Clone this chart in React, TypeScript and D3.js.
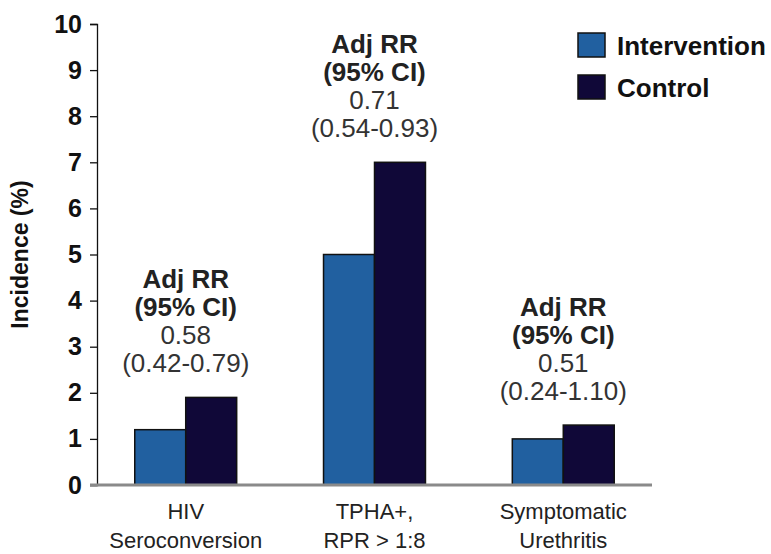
import React, { useEffect, useRef } from 'react'
import * as d3 from 'd3'

// chart values
const categories = ['HIV Seroconversion', 'TPHA+, RPR > 1:8', 'Symptomatic Urethritis']
const categoryLines = [['HIV', 'Seroconversion'], ['TPHA+,', 'RPR > 1:8'], ['Symptomatic', 'Urethritis']]
const seriesNames = ['Intervention', 'Control']
const intervention = [1.2, 5.0, 1.0]
const control = [1.9, 7.0, 1.3]
const rrValues = ['0.58', '0.71', '0.51']
const rrIntervals = ['(0.42-0.79)', '(0.54-0.93)', '(0.24-1.10)']
const yTicks = [0, 1, 2, 3, 4, 5, 6, 7, 8, 9, 10]

const colors = ['#2160a0', '#100838']
const FONT = 'Arial, "Liberation Sans", Helvetica, sans-serif'

function App() {
    const ref = useRef<SVGSVGElement>(null)

    useEffect(() => {
        const width = 771, height = 554
        const margin = { top: 24, right: 119, bottom: 69, left: 97 }
        const w = width - margin.left - margin.right
        const h = height - margin.top - margin.bottom

        const root = d3.select(ref.current)
        root.selectAll('*').remove()
        const svg = root.append('g')
            .attr('transform', 'translate(' + margin.left + ',' + margin.top + ')')

        const y = d3.scaleLinear().domain([0, 10]).range([h, 0])
        const x = d3.scaleBand().domain(categories).range([0, w]).paddingInner(0.46).paddingOuter(0.2)
        const xs = d3.scaleBand().domain(seriesNames).range([0, x.bandwidth()])

        // y axis
        const yAxis = svg.append('g')
            .call(d3.axisLeft(y).tickValues(yTicks).tickSize(7).tickPadding(8).tickFormat(d3.format('d')))
        yAxis.select('.domain').attr('stroke', '#111').attr('stroke-width', 1.3)
        yAxis.selectAll('.tick line').attr('stroke', '#111').attr('stroke-width', 1.3)
        yAxis.selectAll('.tick text')
            .attr('font-family', FONT).attr('font-size', 25).attr('font-weight', 'bold').attr('fill', '#111')

        svg.append('text')
            .attr('transform', 'translate(' + (-75) + ',' + (h / 2) + ') rotate(-90)')
            .attr('text-anchor', 'middle')
            .attr('dominant-baseline', 'middle')
            .attr('font-family', FONT).attr('font-size', 23).attr('font-weight', 'bold').attr('fill', '#111')
            .text('Incidence (%)')

        // bars
        const series = [intervention, control]
        series.forEach((vals, si) => {
            svg.selectAll('.bar' + si)
                .data(vals)
                .enter()
                .append('rect')
                .attr('x', (d, i) => (x(categories[i]) as number) + (xs(seriesNames[si]) as number))
                .attr('y', (d) => y(d))
                .attr('width', xs.bandwidth())
                .attr('height', (d) => h - y(d))
                .attr('fill', colors[si])
                .attr('stroke', '#111')
                .attr('stroke-width', 1.5)
        })

        // x baseline
        svg.append('line')
            .attr('x1', -7).attr('x2', w)
            .attr('y1', y(0)).attr('y2', y(0))
            .attr('stroke', '#8a8a8a').attr('stroke-width', 3)

        // category labels
        categories.forEach((c, i) => {
            const cx = (x(c) as number) + x.bandwidth() / 2
            categoryLines[i].forEach((line, li) => {
                svg.append('text')
                    .attr('x', cx).attr('y', h + 34 + li * 29)
                    .attr('text-anchor', 'middle')
                    .attr('font-family', FONT).attr('font-size', 22).attr('fill', '#222')
                    .text(line)
            })
        })

        // RR annotations above each group
        categories.forEach((c, i) => {
            const cx = (x(c) as number) + x.bandwidth() / 2
            const top = y(Math.max(intervention[i], control[i]))
            const lines = [
                { t: 'Adj RR', bold: true },
                { t: '(95% CI)', bold: true },
                { t: rrValues[i], bold: false },
                { t: rrIntervals[i], bold: false },
            ]
            lines.forEach((l, li) => {
                svg.append('text')
                    .attr('x', cx)
                    .attr('y', top - 25 - (3 - li) * 28)
                    .attr('text-anchor', 'middle')
                    .attr('font-family', FONT).attr('font-size', 26)
                    .attr('font-weight', l.bold ? 'bold' : 'normal')
                    .attr('fill', l.bold ? '#222' : '#333')
                    .text(l.t)
            })
        })

        // legend
        const legend = svg.append('g').attr('transform', 'translate(' + (578 - margin.left) + ',' + (33 - margin.top) + ')')
        seriesNames.forEach((s, i) => {
            legend.append('rect')
                .attr('x', 0).attr('y', i * 42)
                .attr('width', 27).attr('height', 24)
                .attr('fill', colors[i]).attr('stroke', '#111').attr('stroke-width', 1.5)
            legend.append('text')
                .attr('x', 39).attr('y', i * 42 + 13)
                .attr('dominant-baseline', 'central')
                .attr('font-family', FONT).attr('font-size', 26).attr('font-weight', 'bold').attr('fill', '#111')
                .text(s)
        })
    }, [])

    return (
        <div>
            <style>{'body{margin:0}'}</style>
            <svg ref={ref} width={771} height={554} style={{ display: 'block', background: '#fff' }} />
        </div>
    )
}

export default App
